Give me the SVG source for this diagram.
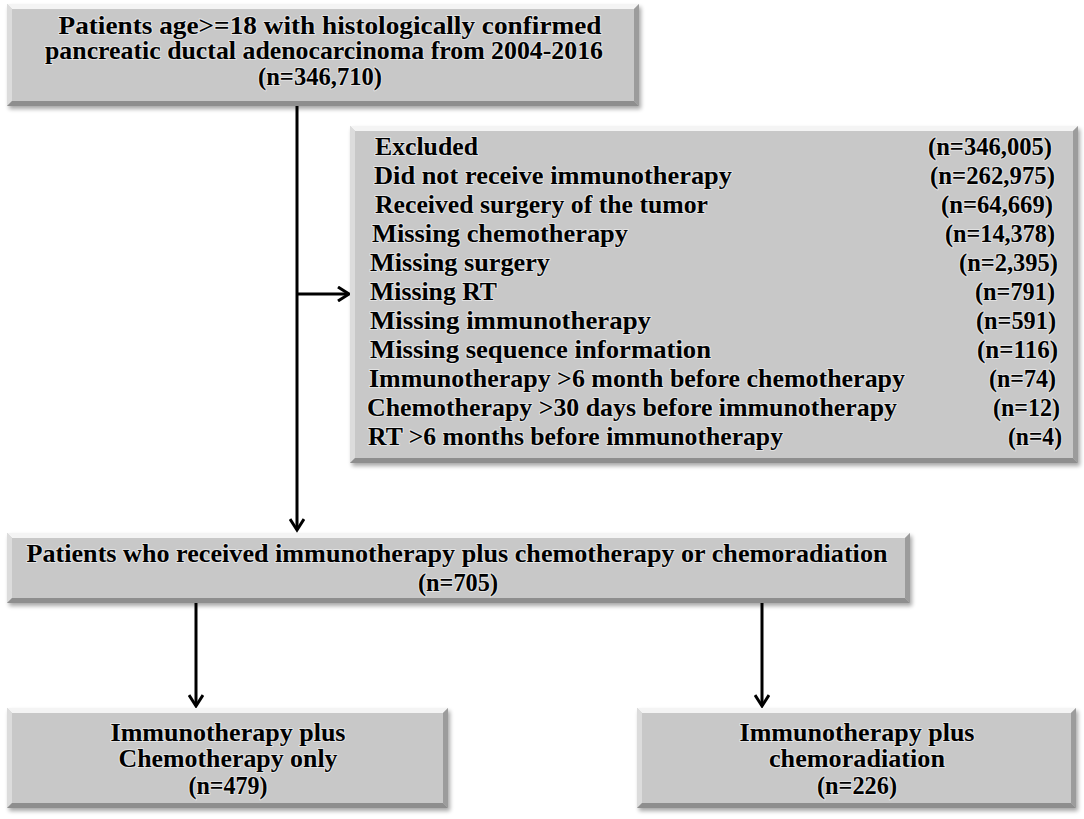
<svg xmlns="http://www.w3.org/2000/svg" width="1084" height="819" viewBox="0 0 1084 819">
<style>
text{font-family:"Liberation Serif","Times New Roman",serif;font-weight:bold;font-size:25px;fill:#000;paint-order:stroke;stroke:#fff;stroke-width:2;stroke-opacity:0.5;stroke-linejoin:round}
.face{fill:#c8c8c8}
.bt{fill:#f4f4f4}
.bl{fill:#dcdcdc}
.br{fill:#9c9c9c}
.bb{fill:#8e8e8e}
.conn{fill:none;stroke:#000;stroke-width:3}
.mid{text-anchor:middle}
.end{text-anchor:end}
</style>
<defs>
<filter id="sh" x="-5%" y="-10%" width="110%" height="125%">
<feGaussianBlur in="SourceAlpha" stdDeviation="2"/>
<feOffset dx="2" dy="3" result="b"/>
<feComponentTransfer><feFuncA type="linear" slope="0.35"/></feComponentTransfer>
<feMerge><feMergeNode/><feMergeNode in="SourceGraphic"/></feMerge>
</filter>
<marker id="arr" viewBox="0 0 16 16" refX="13" refY="8" markerWidth="16" markerHeight="16" markerUnits="userSpaceOnUse" orient="auto">
<path d="M2,1 L13,8 L2,15" fill="none" stroke="#000" stroke-width="3"/>
</marker>
</defs>
<rect width="1084" height="819" fill="#fff"/>

<g id="connectors">
<path class="conn" d="M297,106 V530" marker-end="url(#arr)"/>
<path class="conn" d="M297,294 H349" marker-end="url(#arr)"/>
<path class="conn" d="M196,603 V706" marker-end="url(#arr)"/>
<path class="conn" d="M762,603 V706" marker-end="url(#arr)"/>
</g>

<g id="node-start">
<g filter="url(#sh)">
<rect class="face" x="7" y="4" width="632" height="102"/>
<polygon class="bt" points="7,4 639,4 634,9 12,9"/>
<polygon class="bl" points="7,4 12,9 12,101 7,106"/>
<polygon class="br" points="639,4 639,106 634,101 634,9"/>
<polygon class="bb" points="7,106 639,106 634,101 12,101"/>
</g>
<text class="mid" x="330" y="34" textLength="543" lengthAdjust="spacingAndGlyphs">Patients age&gt;=18 with histologically confirmed</text>
<text class="mid" x="324" y="59" textLength="558" lengthAdjust="spacingAndGlyphs">pancreatic ductal adenocarcinoma from 2004-2016</text>
<text class="mid" x="320" y="85" textLength="124" lengthAdjust="spacingAndGlyphs">(n=346,710)</text>
</g>

<g id="node-excluded">
<g filter="url(#sh)">
<rect class="face" x="350" y="126" width="728" height="337"/>
<polygon class="bt" points="350,126 1078,126 1073,131 355,131"/>
<polygon class="bl" points="350,126 355,131 355,458 350,463"/>
<polygon class="br" points="1078,126 1078,463 1073,458 1073,131"/>
<polygon class="bb" points="350,463 1078,463 1073,458 355,458"/>
</g>
<text x="375" y="155" textLength="103" lengthAdjust="spacingAndGlyphs">Excluded</text>
<text x="374" y="184" textLength="358" lengthAdjust="spacingAndGlyphs">Did not receive immunotherapy</text>
<text x="375" y="213" textLength="333" lengthAdjust="spacingAndGlyphs">Received surgery of the tumor</text>
<text x="372" y="242" textLength="256" lengthAdjust="spacingAndGlyphs">Missing chemotherapy</text>
<text x="370" y="271" textLength="180" lengthAdjust="spacingAndGlyphs">Missing surgery</text>
<text x="370" y="300" textLength="127" lengthAdjust="spacingAndGlyphs">Missing RT</text>
<text x="370" y="329" textLength="281" lengthAdjust="spacingAndGlyphs">Missing immunotherapy</text>
<text x="370" y="358" textLength="341" lengthAdjust="spacingAndGlyphs">Missing sequence information</text>
<text x="369" y="387" textLength="536" lengthAdjust="spacingAndGlyphs">Immunotherapy &gt;6 month before chemotherapy</text>
<text x="367" y="416" textLength="530" lengthAdjust="spacingAndGlyphs">Chemotherapy &gt;30 days before immunotherapy</text>
<text x="368" y="445" textLength="415" lengthAdjust="spacingAndGlyphs">RT &gt;6 months before immunotherapy</text>
<text class="end" x="1052" y="155" textLength="124" lengthAdjust="spacingAndGlyphs">(n=346,005)</text>
<text class="end" x="1055" y="184" textLength="125" lengthAdjust="spacingAndGlyphs">(n=262,975)</text>
<text class="end" x="1053" y="213" textLength="112" lengthAdjust="spacingAndGlyphs">(n=64,669)</text>
<text class="end" x="1055" y="242" textLength="110" lengthAdjust="spacingAndGlyphs">(n=14,378)</text>
<text class="end" x="1058" y="271" textLength="99" lengthAdjust="spacingAndGlyphs">(n=2,395)</text>
<text class="end" x="1055" y="300" textLength="80" lengthAdjust="spacingAndGlyphs">(n=791)</text>
<text class="end" x="1056" y="329" textLength="80" lengthAdjust="spacingAndGlyphs">(n=591)</text>
<text class="end" x="1058" y="358" textLength="81" lengthAdjust="spacingAndGlyphs">(n=116)</text>
<text class="end" x="1056" y="387" textLength="67" lengthAdjust="spacingAndGlyphs">(n=74)</text>
<text class="end" x="1060" y="416" textLength="67" lengthAdjust="spacingAndGlyphs">(n=12)</text>
<text class="end" x="1062" y="445" textLength="54" lengthAdjust="spacingAndGlyphs">(n=4)</text>
</g>

<g id="node-combined">
<g filter="url(#sh)">
<rect class="face" x="7" y="533" width="903" height="70"/>
<polygon class="bt" points="7,533 910,533 905,538 12,538"/>
<polygon class="bl" points="7,533 12,538 12,598 7,603"/>
<polygon class="br" points="910,533 910,603 905,598 905,538"/>
<polygon class="bb" points="7,603 910,603 905,598 12,598"/>
</g>
<text class="mid" x="457" y="562" textLength="861" lengthAdjust="spacingAndGlyphs">Patients who received immunotherapy plus chemotherapy or chemoradiation</text>
<text class="mid" x="458" y="591" textLength="80" lengthAdjust="spacingAndGlyphs">(n=705)</text>
</g>

<g id="node-chemo">
<g filter="url(#sh)">
<rect class="face" x="7" y="708" width="441" height="100"/>
<polygon class="bt" points="7,708 448,708 443,713 12,713"/>
<polygon class="bl" points="7,708 12,713 12,803 7,808"/>
<polygon class="br" points="448,708 448,808 443,803 443,713"/>
<polygon class="bb" points="7,808 448,808 443,803 12,803"/>
</g>
<text class="mid" x="228" y="741" textLength="235" lengthAdjust="spacingAndGlyphs">Immunotherapy plus</text>
<text class="mid" x="228" y="767" textLength="219" lengthAdjust="spacingAndGlyphs">Chemotherapy only</text>
<text class="mid" x="228" y="794" textLength="79" lengthAdjust="spacingAndGlyphs">(n=479)</text>
</g>

<g id="node-chemorad">
<g filter="url(#sh)">
<rect class="face" x="637" y="708" width="439" height="100"/>
<polygon class="bt" points="637,708 1076,708 1071,713 642,713"/>
<polygon class="bl" points="637,708 642,713 642,803 637,808"/>
<polygon class="br" points="1076,708 1076,808 1071,803 1071,713"/>
<polygon class="bb" points="637,808 1076,808 1071,803 642,803"/>
</g>
<text class="mid" x="857" y="741" textLength="235" lengthAdjust="spacingAndGlyphs">Immunotherapy plus</text>
<text class="mid" x="857" y="767" textLength="176" lengthAdjust="spacingAndGlyphs">chemoradiation</text>
<text class="mid" x="857" y="794" textLength="80" lengthAdjust="spacingAndGlyphs">(n=226)</text>
</g>
</svg>
